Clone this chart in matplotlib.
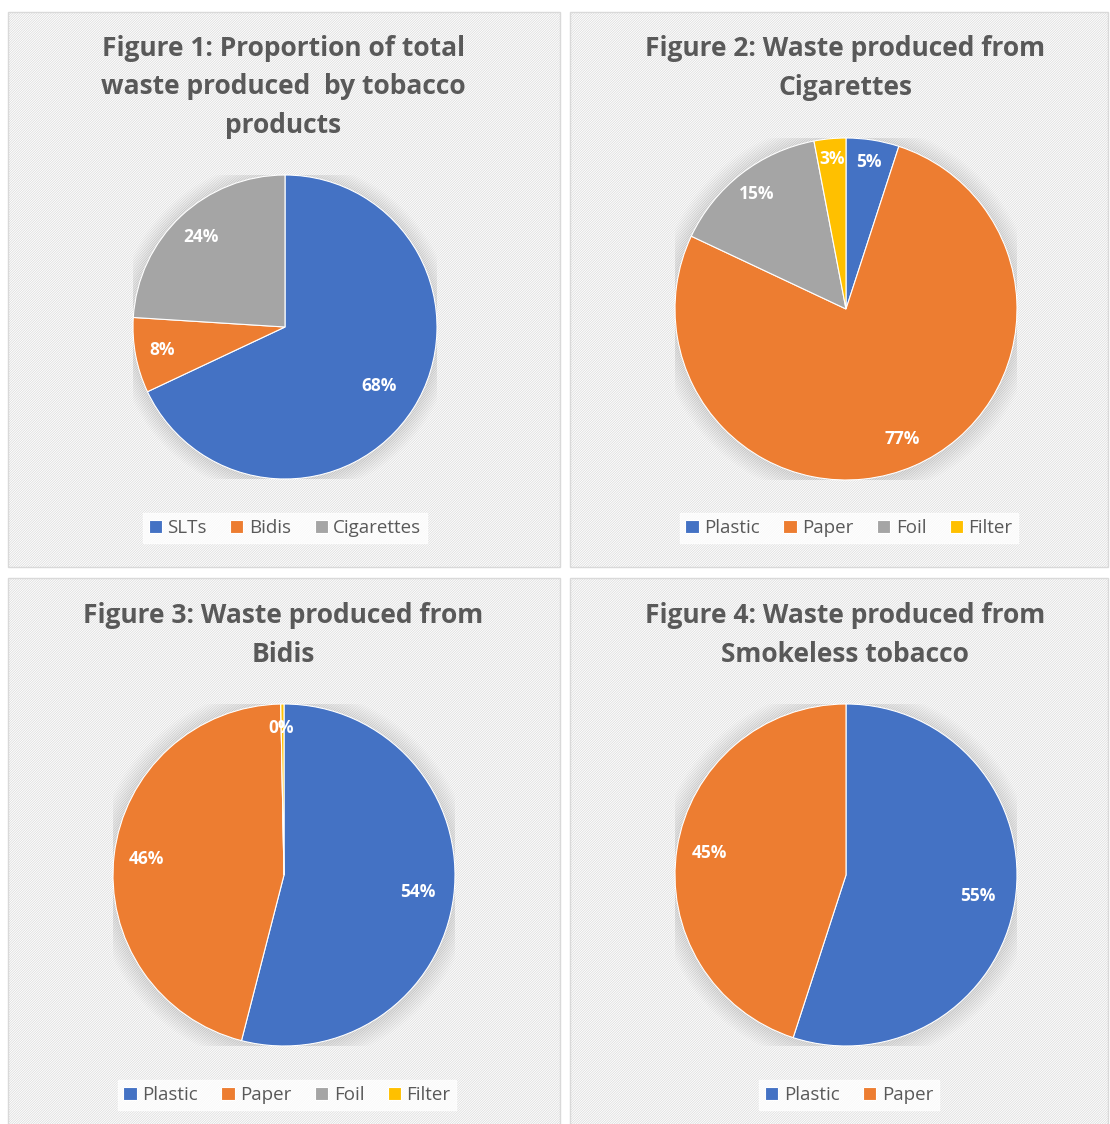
import matplotlib.pyplot as plt
from matplotlib.patches import Rectangle, Circle
import numpy as np

W, H = 1110, 1124

# data
fig1_labels = ["SLTs", "Bidis", "Cigarettes"]
fig1_values = [68, 8, 24]
fig2_labels = ["Plastic", "Paper", "Foil", "Filter"]
fig2_values = [5, 77, 15, 3]
fig3_labels = ["Plastic", "Paper", "Foil", "Filter"]
fig3_values = [54, 45.7, 0, 0.3]
fig4_labels = ["Plastic", "Paper"]
fig4_values = [55, 45]

titles = [
    "Figure 1: Proportion of total\nwaste produced  by tobacco\nproducts",
    "Figure 2: Waste produced from\nCigarettes",
    "Figure 3: Waste produced from\nBidis",
    "Figure 4: Waste produced from\nSmokeless tobacco",
]

colors = {"SLTs": "#4472C4", "Bidis": "#ED7D31", "Cigarettes": "#A5A5A5",
          "Plastic": "#4472C4", "Paper": "#ED7D31", "Foil": "#A5A5A5", "Filter": "#FFC000"}

# layout in pixels: panel box, pie centre + radius, title centre, legend centre
panels = [
    dict(box=(8, 12, 560, 567), c=(285, 327), r=152, t=(283, 87), lg=(285, 528),
         ld=[0.73, 0.82, 0.81]),
    dict(box=(570, 12, 1108, 567), c=(846, 309), r=171, t=(845, 68), lg=(849, 528),
         ld=[0.87, 0.83, 0.85, 0.88]),
    dict(box=(8, 578, 560, 1130), c=(284, 875), r=171, t=(283, 635), lg=(287, 1095),
         ld=[0.79, 0.81, 0.86, 0.86]),
    dict(box=(570, 578, 1108, 1130), c=(846, 875), r=171, t=(845, 635), lg=(849, 1095),
         ld=[0.78, 0.81]),
]
series = [(fig1_labels, fig1_values), (fig2_labels, fig2_values),
          (fig3_labels, fig3_values), (fig4_labels, fig4_values)]

plt.rcParams['font.family'] = ['Open Sans', 'DejaVu Sans']
plt.rcParams['hatch.linewidth'] = 0.5
plt.rcParams['hatch.color'] = '#F4F4F4'

fig = plt.figure(figsize=(W / 100, H / 100), dpi=100)
fig.patch.set_facecolor('white')

def fx(x):
    return x / W

def fy(y):
    return 1 - y / H

for p, (labels, values), title in zip(panels, series, titles):
    x0, y0, x1, y1 = p["box"]
    fig.add_artist(Rectangle((fx(x0), fy(y1)), fx(x1 - x0), (y1 - y0) / H,
                             transform=fig.transFigure, facecolor='white',
                             edgecolor='#D9D9D9', lw=1.0, hatch='/' * 14, zorder=0))

    cx, cy = p["c"]
    r = p["r"]
    ax = fig.add_axes([fx(cx - r), fy(cy + r), 2 * r / W, 2 * r / H])
    ax.set_facecolor('none')

    # soft shadow round the pie
    for k in range(10):
        ax.add_patch(Circle((0.0, -0.01), 1.0 + 0.012 * k, color='#000000',
                            alpha=0.012, lw=0, zorder=0))

    wedges, _ = ax.pie(values, colors=[colors[l] for l in labels], startangle=90,
                       counterclock=False, radius=1.0,
                       wedgeprops=dict(edgecolor='white', linewidth=0.8))
    for w in wedges:
        w.set_zorder(2)
    total = float(sum(values))
    shown = set()
    for w, v, d in zip(wedges, values, p["ld"]):
        pct = "%d%%" % round(100 * v / total)
        ang = np.deg2rad((w.theta1 + w.theta2) / 2)
        key = (round(ang, 1))
        if key in shown:
            continue
        shown.add(key)
        ax.text(d * np.cos(ang), d * np.sin(ang), pct, ha='center', va='center',
                color='white', fontsize=12.5, fontweight='bold', zorder=3)
    ax.set_xlim(-1, 1)
    ax.set_ylim(-1, 1)
    ax.set_aspect('equal')
    ax.axis('off')

    tx, ty = p["t"]
    fig.text(fx(tx), fy(ty), title, ha='center', va='center', fontsize=19,
             fontweight='bold', color='#595959', linespacing=1.56)

    lx, ly = p["lg"]
    leg = fig.legend(wedges, labels, loc='center', bbox_to_anchor=(fx(lx), fy(ly)),
                     bbox_transform=fig.transFigure, ncol=len(labels), frameon=True,
                     fontsize=13.5, handlelength=0.7, handleheight=0.7,
                     handletextpad=0.3, columnspacing=1.25, borderpad=0.3)
    leg.get_frame().set_facecolor('white')
    leg.get_frame().set_edgecolor('white')
    leg.get_frame().set_boxstyle('square', pad=0.0)
    for t in leg.get_texts():
        t.set_color('#595959')

fig.savefig("out.png", dpi=100)
